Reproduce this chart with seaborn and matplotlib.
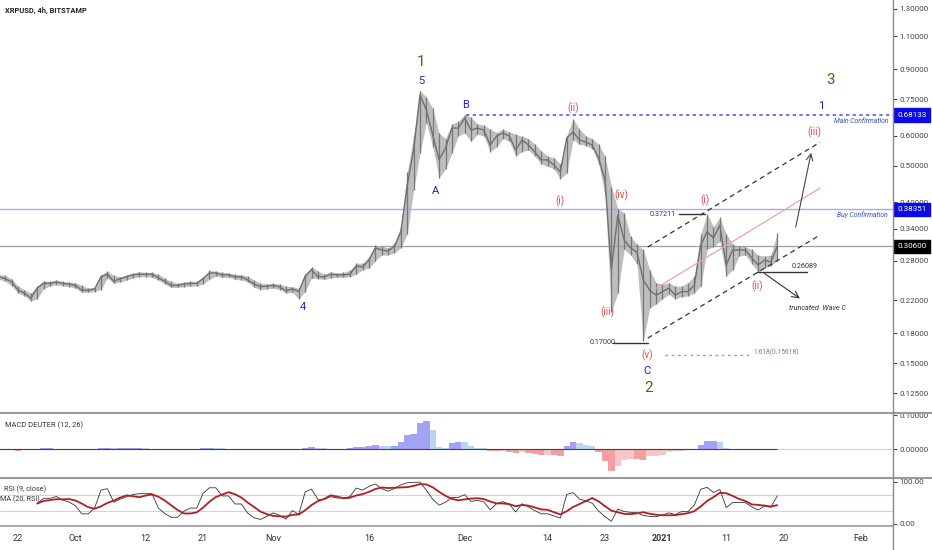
import numpy as np
import pandas as pd
import matplotlib
matplotlib.use("Agg")
import matplotlib.pyplot as plt
from matplotlib.lines import Line2D
from matplotlib.ticker import NullLocator
import seaborn as sns

# daily XRPUSD values (19 Sep 2020 -> 19 Jan 2021)
start = pd.Timestamp("2020-09-19")
closes = [0.254, 0.251, 0.246, 0.234, 0.230, 0.223, 0.237, 0.244, 0.244, 0.246,
          0.244, 0.243, 0.241, 0.234, 0.234, 0.236, 0.254, 0.258, 0.247, 0.251,
          0.254, 0.257, 0.258, 0.258, 0.258, 0.252, 0.247, 0.241, 0.241, 0.243,
          0.244, 0.244, 0.251, 0.260, 0.260, 0.257, 0.257, 0.254, 0.254, 0.249,
          0.243, 0.239, 0.240, 0.241, 0.239, 0.233, 0.236, 0.232, 0.255, 0.265,
          0.254, 0.254, 0.258, 0.257, 0.257, 0.258, 0.271, 0.270, 0.281, 0.303,
          0.299, 0.297, 0.306, 0.334, 0.444, 0.550, 0.770, 0.702, 0.603, 0.518,
          0.557, 0.629, 0.629, 0.668, 0.621, 0.629, 0.621, 0.567, 0.599, 0.610,
          0.599, 0.550, 0.585, 0.567, 0.543, 0.518, 0.518, 0.502, 0.481, 0.592,
          0.614, 0.585, 0.577, 0.567, 0.524, 0.458, 0.265, 0.370, 0.318, 0.303,
          0.295, 0.249, 0.234, 0.227, 0.232, 0.237, 0.227, 0.232, 0.232, 0.241,
          0.308, 0.334, 0.322, 0.348, 0.273, 0.299, 0.299, 0.299, 0.285, 0.273,
          0.281, 0.278, 0.306]
highs = [0.258, 0.256, 0.251, 0.240, 0.235, 0.230, 0.240, 0.248, 0.247, 0.249,
         0.247, 0.246, 0.245, 0.241, 0.237, 0.238, 0.257, 0.263, 0.256, 0.254,
         0.257, 0.260, 0.262, 0.261, 0.261, 0.258, 0.252, 0.247, 0.244, 0.246,
         0.247, 0.247, 0.254, 0.264, 0.263, 0.261, 0.260, 0.258, 0.257, 0.255,
         0.249, 0.244, 0.243, 0.244, 0.243, 0.240, 0.239, 0.237, 0.258, 0.270,
         0.263, 0.258, 0.262, 0.260, 0.261, 0.264, 0.276, 0.276, 0.287, 0.308,
         0.306, 0.303, 0.312, 0.345, 0.480, 0.600, 0.790, 0.760, 0.710, 0.610,
         0.590, 0.645, 0.655, 0.683, 0.672, 0.645, 0.640, 0.625, 0.612, 0.625,
         0.615, 0.605, 0.598, 0.590, 0.570, 0.548, 0.530, 0.525, 0.505, 0.600,
         0.665, 0.625, 0.600, 0.590, 0.570, 0.530, 0.440, 0.385, 0.375, 0.325,
         0.310, 0.300, 0.265, 0.245, 0.243, 0.245, 0.240, 0.240, 0.245, 0.255,
         0.330, 0.372, 0.345, 0.365, 0.330, 0.310, 0.306, 0.305, 0.300, 0.290,
         0.288, 0.290, 0.332]
lows = [0.250, 0.247, 0.240, 0.230, 0.226, 0.219, 0.222, 0.236, 0.240, 0.242,
        0.240, 0.239, 0.237, 0.231, 0.231, 0.232, 0.235, 0.252, 0.244, 0.246,
        0.249, 0.252, 0.254, 0.254, 0.253, 0.249, 0.243, 0.238, 0.238, 0.239,
        0.240, 0.240, 0.243, 0.250, 0.255, 0.253, 0.253, 0.250, 0.249, 0.246,
        0.238, 0.235, 0.236, 0.237, 0.235, 0.230, 0.231, 0.222, 0.232, 0.252,
        0.251, 0.250, 0.252, 0.253, 0.253, 0.254, 0.258, 0.265, 0.268, 0.280,
        0.290, 0.290, 0.294, 0.303, 0.330, 0.430, 0.540, 0.650, 0.560, 0.465,
        0.490, 0.540, 0.600, 0.610, 0.580, 0.605, 0.600, 0.545, 0.560, 0.590,
        0.580, 0.530, 0.545, 0.550, 0.530, 0.505, 0.498, 0.490, 0.462, 0.478,
        0.585, 0.570, 0.565, 0.555, 0.505, 0.420, 0.205, 0.230, 0.300, 0.290,
        0.275, 0.172, 0.210, 0.215, 0.222, 0.228, 0.222, 0.225, 0.226, 0.230,
        0.240, 0.300, 0.305, 0.315, 0.255, 0.265, 0.288, 0.290, 0.275, 0.262,
        0.268, 0.272, 0.280]
macd_hist = [-0.002, -0.003, -0.004, -0.005, -0.004, -0.003, 0.001, 0.002, 0.002, 0.001,
             0.001, 0.000, -0.001, -0.002, -0.002, 0.000, 0.003, 0.004, 0.002, 0.002,
             0.002, 0.003, 0.003, 0.002, 0.001, -0.001, -0.002, -0.003, -0.003, -0.002,
             -0.001, 0.000, 0.002, 0.004, 0.003, 0.002, 0.001, 0.000, -0.001, -0.002,
             -0.003, -0.003, -0.002, -0.002, -0.002, -0.003, -0.002, -0.002, 0.003, 0.005,
             0.003, 0.002, 0.001, 0.001, 0.001, 0.002, 0.005, 0.006, 0.008, 0.011,
             0.010, 0.008, 0.009, 0.020, 0.040, 0.045, 0.078, 0.082, 0.055, 0.005,
             0.004, 0.018, 0.021, 0.020, 0.010, 0.004, 0.002, -0.006, -0.007, -0.005,
             -0.008, -0.012, -0.009, -0.012, -0.015, -0.018, -0.017, -0.018, -0.020, 0.010,
             0.020, 0.017, 0.013, 0.008, -0.010, -0.035, -0.066, -0.050, -0.032, -0.030,
             -0.030, -0.031, -0.022, -0.020, -0.018, -0.008, -0.006, -0.005, -0.004, -0.002,
             0.012, 0.023, 0.024, 0.020, 0.004, -0.002, -0.003, -0.002, -0.004, -0.004,
             -0.003, -0.003, -0.002]

price_ticks = [0.125, 0.15, 0.18, 0.22, 0.28, 0.34, 0.40, 0.50, 0.60, 0.75, 0.90, 1.10, 1.30]
tick_dates = ["2020-09-22", "2020-10-01", "2020-10-12", "2020-10-21", "2020-11-01", "2020-11-16",
              "2020-12-01", "2020-12-14", "2020-12-23", "2021-01-01", "2021-01-11", "2021-01-20",
              "2021-02-01"]
tick_labels = ["22", "Oct", "12", "21", "Nov", "16", "Dec", "14", "23", "2021", "11", "20", "Feb"]

main_conf = 0.68133
buy_conf = 0.38351
last_price = 0.306

dates = pd.date_range(start, periods=len(closes), freq="D")

# RSI + its MA from the closes (warm-up days left out)
c = pd.Series(closes)
delta = c.diff()
gain = delta.clip(lower=0).ewm(alpha=1 / 4, adjust=True).mean()
loss = (-delta.clip(upper=0)).ewm(alpha=1 / 4, adjust=True).mean()
rsi = 100 - 100 / (1 + gain / loss)
rsi.iloc[:6] = np.nan
rsi_ma = rsi.rolling(5, min_periods=1).mean()


def day(n):
    return start + pd.Timedelta(days=n)


sns.set_theme(style="white")
plt.rcParams["font.family"] = ["Roboto", "DejaVu Sans"]

W, H = 932, 550
fig = plt.figure(figsize=(W / 100, H / 100), dpi=100)


def box(x0, y0, x1, y1):
    return [x0 / W, 1 - y1 / H, (x1 - x0) / W, (y1 - y0) / H]


ax = fig.add_axes(box(0, 0, 893, 413))
ax_macd = fig.add_axes(box(0, 413, 893, 478), sharex=ax)
ax_rsi = fig.add_axes(box(0, 478, 893, 526), sharex=ax)

for a in (ax, ax_macd, ax_rsi):
    a.set_facecolor("white")
    for s in a.spines.values():
        s.set_visible(False)
    a.yaxis.tick_right()
    a.tick_params(axis="y", labelsize=5.8, colors="#444444", length=3, width=0.8, pad=1.5, right=True)
    a.tick_params(axis="x", length=0)

# ---- price panel
ax.fill_between(dates, lows, highs, color="#a9a9a9", lw=0, alpha=0.75)
ax.vlines(dates, lows, highs, color="#777777", lw=0.9)
sns.lineplot(x=dates, y=closes, ax=ax, color="#707070", lw=1.0)
ax.set_yscale("log")
ax.set_ylim(0.1107, 1.373)
ax.set_xlim(day(0.17), day(140.14))
ax.yaxis.set_minor_locator(NullLocator())
ax.set_yticks(price_ticks)
ax.set_yticklabels([f"{v:.5f}" for v in price_ticks])
ax.set_xlabel("")
ax.set_ylabel("")
plt.setp(ax.get_xticklabels(), visible=False)

ax.axhline(buy_conf, color="#a9a9f2", lw=1.0, zorder=1)
ax.axhline(last_price, color="#a0a0a0", lw=0.9, zorder=1)
ax.hlines(main_conf, day(73.2), day(140.14), color="#5a5aec", lw=1.2, linestyles=(0, (2, 2)))

# channel
ax.plot([day(101.7), day(128.7)], [0.3045, 0.577], color="#333333", lw=0.9, ls=(0, (4, 3)))
ax.plot([day(101.7), day(128.7)], [0.1748, 0.3276], color="#333333", lw=0.9, ls=(0, (4, 3)))
ax.plot([day(102.5), day(128.7)], [0.234, 0.436], color="#e8a6a6", lw=0.9)

# level markers
small = 5.2
ax.plot([day(96.3), day(101.7)], [0.17, 0.17], color="#333333", lw=1.0)
ax.text(day(92.6), 0.17, "0.17000", fontsize=small, color="#333333", va="center", ha="left")
ax.plot([day(106.6), day(110.7)], [0.37211, 0.37211], color="#333333", lw=1.0)
ax.text(day(102.0), 0.3721, "0.37211", fontsize=small, color="#333333", va="center", ha="left")
ax.plot([day(118.8), day(126.7)], [0.26089, 0.26089], color="#333333", lw=1.0)
ax.text(day(124.3), 0.2645, "0.26089", fontsize=small, color="#333333", va="bottom", ha="left")
ax.plot([day(104.4), day(118.0)], [0.1576, 0.1576], color="#9aa88c", lw=1.0, ls=(0, (2, 2.5)))
ax.text(day(118.2), 0.1605, "1.618(0.15618)", fontsize=4.8, color="#6f8a5c", va="center", ha="left")

ax.annotate("", xy=(day(125.9), 0.2204), xytext=(day(119.6), 0.262),
            arrowprops=dict(arrowstyle="->", color="#333333", lw=0.8))
ax.text(day(123.8), 0.210, "truncated  Wave C", fontsize=small, style="italic", color="#333333",
        va="center", ha="left")
ax.annotate("", xy=(day(127.4), 0.55), xytext=(day(124.8), 0.338),
            arrowprops=dict(arrowstyle="->", color="#444444", lw=0.8))

ax.text(day(130.9), 0.656, "Main Confirmation", fontsize=4.9, style="italic", color="#2b50c8",
        va="center", ha="left")
ax.text(day(131.3), 0.370, "Buy Confirmation", fontsize=4.9, style="italic", color="#2b50c8",
        va="center", ha="left")

# wave labels
green, blue, red = "#2b7a0b", "#2222cc", "#e2474a"
labels = [
    (66.2, 0.941, "1", green, 11), (130.4, 0.843, "3", green, 11), (101.9, 0.129, "2", green, 11),
    (66.2, 0.838, "5", blue, 8), (68.5, 0.428, "A", blue, 8), (73.2, 0.724, "B", blue, 8),
    (47.7, 0.211, "4", blue, 8), (101.6, 0.143, "C", blue, 8), (128.9, 0.719, "1", blue, 8),
    (87.9, 0.403, "(i)", red, 7), (90.0, 0.710, "(ii)", red, 7), (95.3, 0.205, "(iii)", red, 7),
    (97.5, 0.418, "(iv)", red, 7), (101.6, 0.157, "(v)", red, 7), (110.7, 0.405, "(i)", red, 7),
    (118.8, 0.240, "(ii)", red, 7), (127.8, 0.614, "(iii)", red, 7),
]
for d, p, t, col, fs in labels:
    ax.text(day(d), p, t, color=col, fontsize=fs, ha="center", va="center")

for val, txt, bg in [(main_conf, "0.68133", "#0b0be8"), (buy_conf, "0.38351", "#0b0be8"),
                     (last_price, "0.30600", "#000000")]:
    ax.annotate(txt, xy=(1, val), xycoords=("axes fraction", "data"), xytext=(3, 0),
                textcoords="offset points", fontsize=5.8, color="white", va="center", ha="left",
                annotation_clip=False, zorder=10,
                bbox=dict(boxstyle="square,pad=0.45", fc=bg, ec=bg))

# ---- MACD panel
cols = []
for i, v in enumerate(macd_hist):
    prev = macd_hist[i - 1] if i > 0 else v
    if v >= 0:
        cols.append("#a2a2f6" if v >= prev else "#bcd4f2")
    else:
        cols.append("#f4a0a0" if v <= prev else "#f7c6c6")
ax_macd.bar(dates, macd_hist, width=1.0, color=cols, lw=0)
ax_macd.axhline(0, color="#d0d0d0", lw=0.8, zorder=0)
ax_macd.hlines(0, dates[0], dates[-1], color="#444444", lw=0.8)
ax_macd.set_ylim(-0.0853, 0.106)
ax_macd.set_yticks([0.0, 0.1])
ax_macd.set_yticklabels(["0.00000", "0.10000"])
plt.setp(ax_macd.get_xticklabels(), visible=False)

# ---- RSI panel
ax_rsi.axhline(70, color="#d4d4d4", lw=0.8)
ax_rsi.axhline(30, color="#d4d4d4", lw=0.8)
sns.lineplot(x=dates, y=rsi.values, ax=ax_rsi, color="#333333", lw=0.6)
sns.lineplot(x=dates, y=rsi_ma.values, ax=ax_rsi, color="#b11f24", lw=1.3)
ax_rsi.set_ylim(-4.8, 109.5)
ax_rsi.set_yticks([0, 100])
ax_rsi.set_yticklabels(["0.00", "100.00"])
ax_rsi.set_ylabel("")
ax_rsi.set_xlabel("")
ax_rsi.set_xticks(pd.to_datetime(tick_dates))
ax_rsi.set_xticklabels(tick_labels)
ax_rsi.tick_params(axis="x", labelsize=6.5, colors="#333333", pad=6)
for lab in ax_rsi.get_xticklabels():
    if lab.get_text() == "2021":
        lab.set_fontweight("bold")
ax_rsi.set_xlim(day(0.17), day(140.14))


# panel frame lines
def hline_px(y, x0=0, x1=W, color="#9a9a9a", lw=1.5):
    fig.add_artist(Line2D([x0 / W, x1 / W], [1 - y / H, 1 - y / H], transform=fig.transFigure,
                          color=color, lw=lw))


hline_px(413)
hline_px(478)
hline_px(526, 0, 893, color="#9a9a9a", lw=1.2)
fig.add_artist(Line2D([893 / W, 893 / W], [0, 1], transform=fig.transFigure, color="#8a8a8a", lw=1.0))

fig.text(5 / W, 1 - 11 / H, "XRPUSD, 4h, BITSTAMP", fontsize=5.4, fontweight="semibold",
         color="#222222", va="center", ha="left")
fig.text(5 / W, 1 - 425 / H, "MACD DEUTER (12, 26)", fontsize=5.4, color="#333333", va="center", ha="left")
fig.text(4 / W, 1 - 489 / H, "RSI (9, close)", fontsize=5.2, color="#333333", va="center", ha="left")
fig.text(0, 1 - 499 / H, "MA (20, RSI)", fontsize=5.2, color="#333333", va="center", ha="left")

fig.savefig("out.png", dpi=100, facecolor="white")
